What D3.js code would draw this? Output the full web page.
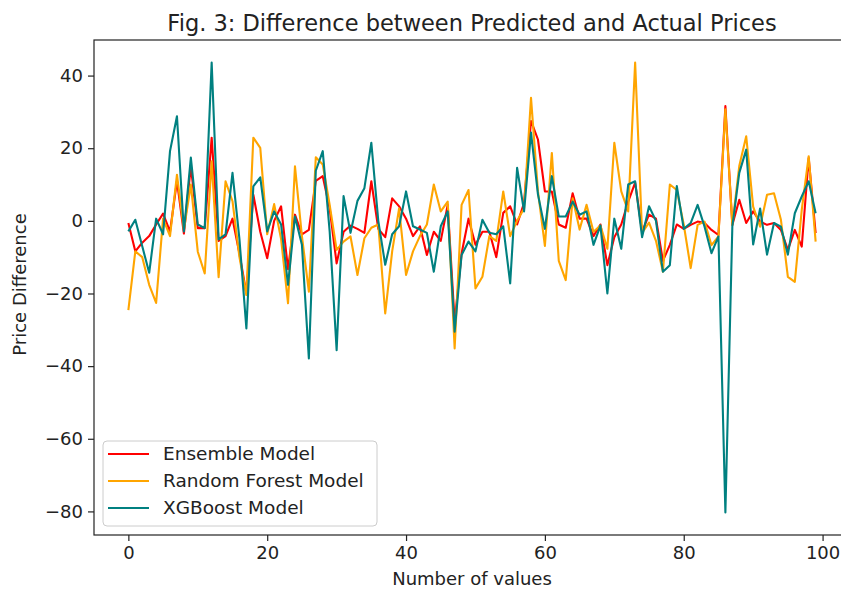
<!DOCTYPE html>
<html>
<head>
<meta charset="utf-8">
<script src="https://cdn.jsdelivr.net/npm/d3@7"></script>
<style>
  body { margin: 0; background: #fff; }
  text { font-family: "DejaVu Sans", sans-serif; fill: #222; }
</style>
</head>
<body>
<div id="chart"></div>
<script>
var width = 841;
var height = 592;

// price differences, index 0..99
var ensemble = [-0.6, -8.4, -6, -4.2, -1, 2, -3, 11, -3.5, 15,
    -2, -2, 22.9, -5.5, -4.2, 0.6, -9, -20, 7.2, -3,
    -10.3, 0, 4, -13.3, 1.7, -3.7, -2.5, 11, 12.3, 3.4,
    -11.7, -3, -1.3, -2.2, -3.3, 10.9, -2.2, -4.5, 6.2, 4,
    0.6, -4.2, -1.5, -9.4, -3, -5.5, 4.4, -27.8, -9, 0.6,
    -6.6, -3, -3, -10, 2.2, 4, -1, 5, 27.5, 22.4,
    8.1, 8.1, -1, -1.9, 7.6, 0.6, 0.6, -4.2, -1, -12.2,
    -4.5, -1, 5.3, 10.5, -3, 1.7, 0.6, -11, -6.6, -1,
    -2.2, -1.1, -0.2, -0.6, -2.5, -3.9, 31.6, -1.1, 5.8, -0.6,
    2.6, -0.2, -1.1, -0.6, -2.5, -8, -2.5, -7.1, 17.3, -3.4];

var randomForest = [-24.6, -8.4, -10, -17.6, -22.6, 0.6, -4.2, 12.7, -2.5, 10,
    -8.5, -14.5, 16.4, -15.5, 10.9, 5.4, -10, -20.4, 22.9, 20.1,
    -3.7, 4.6, -5, -22.7, 15, -4.2, -19.5, 17.5, 15.5, 4.4,
    -8, -5.7, -4.3, -14.9, -4.8, -1.9, -1, -25.5, -8.4, 3.4,
    -14.9, -8.4, -4.2, -1, 10, 2.6, 5.3, -35.1, 4.4, 8.5,
    -18.6, -15.4, -4.2, -5.5, 8.1, -4.2, 0, 3.4, 33.9, 8.1,
    -6.9, 18.7, -11, -16.3, 6.2, -2.4, 4.4, -3, -1.3, -7.7,
    21.5, 8.1, 2.6, 43.6, -3.3, -0.5, -5.5, -14, 10, 8.5,
    -1, -13, -1.1, -0.2, -6.7, -4.3, 30.7, -1.1, 15.1, 23.3,
    3.9, -1.6, 7.2, 7.6, 0.3, -15.4, -16.8, 3, 17.8, -5.7];

var xgboost = [-2.9, 0.3, -7, -14.3, 0.6, -3.7, 19.2, 28.8, -2.9, 17.4,
    -1, -2, 43.6, -5.1, -3.7, 13.2, -5, -29.6, 9.5, 12,
    -2.9, 2.6, -1, -17.6, 1.2, -6.6, -37.9, 13.8, 19.2, -3,
    -35.6, 6.8, -3.3, 5.5, 9, 21.5, 0, -12.1, -3.7, -1.5,
    8.1, -1.5, -2.4, -3.3, -14, -1.5, 2.6, -30.5, -9.4, -5.7,
    -8.4, 0.3, -3.3, -3.7, -1.5, -17.2, 14.6, 2.6, 24.3, 7.3,
    -2.2, 12.3, 1.2, 1.2, 5.3, 1.7, 2.6, -6.6, -1.3, -20,
    0.6, -7.7, 10, 10.9, -4.5, 4, 0, -14, -12.2, 9.6,
    -2.2, -0.6, 4.4, -1.6, -8.9, -4.3, -80.3, -1.6, 13.2, 19.6,
    -6.5, 3.4, -9.3, -0.6, -1.6, -9.3, 2.1, 6.7, 10.9, 2.1];

var seriesNames = ['Ensemble Model', 'Random Forest Model', 'XGBoost Model'];
var seriesColors = ['red', 'orange', 'teal'];
var xTicks = [0, 20, 40, 60, 80, 100];
var yTicks = [-80, -60, -40, -20, 0, 20, 40];

var margin = {left: 94, right: -9, top: 40, bottom: 57};

var svg = d3.select('#chart')
    .append('svg')
    .attr('width', width)
    .attr('height', height);

// matplotlib style 5% padding
var x = d3.scaleLinear()
    .domain([-4.95, 103.95])
    .range([margin.left, width - margin.right]);

var allVals = ensemble.concat(randomForest, xgboost);
var yMin = d3.min(allVals), yMax = d3.max(allVals);
var pad = (yMax - yMin) * 0.05;
var y = d3.scaleLinear()
    .domain([yMin - pad, yMax + pad])
    .range([height - margin.bottom, margin.top]);

var line = d3.line()
    .x((d, i) => x(i))
    .y(d => y(d));

var plot = svg.append('g');
[ensemble, randomForest, xgboost].forEach((s, k) => {
    plot.append('path')
        .datum(s)
        .attr('fill', 'none')
        .attr('stroke', seriesColors[k])
        .attr('stroke-width', 2.1)
        .attr('stroke-linejoin', 'round')
        .attr('d', line);
});

// axes
var xAxis = svg.append('g')
    .attr('transform', 'translate(0,' + (height - margin.bottom) + ')')
    .call(d3.axisBottom(x).tickValues(xTicks).tickSize(6).tickPadding(5));
var yAxis = svg.append('g')
    .attr('transform', 'translate(' + margin.left + ',0)')
    .call(d3.axisLeft(y).tickValues(yTicks).tickSize(6).tickPadding(5)
        .tickFormat(d => d < 0 ? '\u2212' + Math.abs(d) : d));
[xAxis, yAxis].forEach(a => {
    a.select('.domain').remove();
    a.selectAll('line').attr('stroke', '#222').attr('stroke-width', 1.2);
    a.selectAll('text').style('font-size', '18px').attr('fill', '#222');
});

// spines
svg.append('rect')
    .attr('x', margin.left)
    .attr('y', margin.top)
    .attr('width', x.range()[1] - margin.left)
    .attr('height', height - margin.bottom - margin.top)
    .attr('fill', 'none')
    .attr('stroke', '#222')
    .attr('stroke-width', 1.2);

svg.append('text')
    .attr('x', (margin.left + x.range()[1]) / 2)
    .attr('y', 31)
    .attr('text-anchor', 'middle')
    .style('font-size', '22.5px')
    .text('Fig. 3: Difference between Predicted and Actual Prices');

svg.append('text')
    .attr('x', (margin.left + x.range()[1]) / 2)
    .attr('y', 585)
    .attr('text-anchor', 'middle')
    .style('font-size', '18px')
    .text('Number of values');

svg.append('text')
    .attr('transform', 'translate(26,' + ((margin.top + height - margin.bottom) / 2 - 3) + ') rotate(-90)')
    .attr('text-anchor', 'middle')
    .style('font-size', '18px')
    .text('Price Difference');

// legend
var legend = svg.append('g').attr('transform', 'translate(103,441)');
legend.append('rect')
    .attr('width', 274)
    .attr('height', 85)
    .attr('rx', 4)
    .attr('fill', 'white')
    .attr('fill-opacity', 0.8)
    .attr('stroke', '#ccc');
seriesNames.forEach((name, k) => {
    var row = legend.append('g').attr('transform', 'translate(0,' + (13 + k * 27) + ')');
    row.append('line')
        .attr('x1', 5).attr('x2', 46)
        .attr('stroke', seriesColors[k])
        .attr('stroke-width', 2.1);
    row.append('text')
        .attr('x', 60)
        .attr('dy', '0.35em')
        .style('font-size', '18.5px')
        .text(name);
});
</script>
</body>
</html>
